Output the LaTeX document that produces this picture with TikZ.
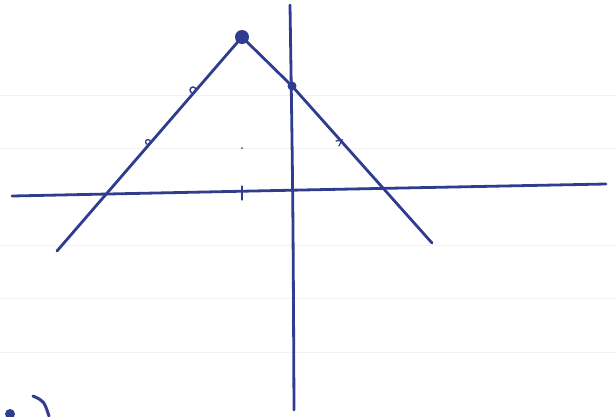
\documentclass[tikz,border=0pt]{standalone}
\usepackage{tikz}
\definecolor{ink}{HTML}{2F3C8F}
\definecolor{paper}{HTML}{F1F2F4}

\begin{document}
\begin{tikzpicture}[
  x=1pt, y=-1pt,
  pen/.style={draw=ink, line width=2.8pt, line cap=round},
  thin pen/.style={draw=ink, line width=1.3pt, line cap=round},
  grid line/.style={draw=paper, line width=0.8pt},
  blot/.style={circle, fill=ink, inner sep=0pt}
]
\useasboundingbox (0,0) rectangle (616,416);
% faint paper rules
\foreach \y in {95,148,245,298,352} \draw[grid line] (0,\y) -- (616,\y);
% axes
\coordinate (xl) at (12,196);
\coordinate (xr) at (606,184);
\coordinate (yt) at (290,5);
\coordinate (yb) at (294,410);
\draw[pen] (xl) .. controls (300,190) .. (xr);
\draw[pen] (yt) .. controls (293,200) .. (yb);
% the two branches
\node[blot, minimum size=14pt] (apex) at (242,37) {};
\node[blot, minimum size=9pt] (yint) at (292,86) {};
\coordinate (lend) at (57,251);
\coordinate (rend) at (432,243);
\draw[pen] (lend) -- (apex.center);
\draw[pen] (apex.center) -- (yint.center) -- (rend);
% marks on the branches
\node[circle, draw=ink, line width=1.4pt, minimum size=6pt, inner sep=0pt] (ma) at (193,90) {};
\node[circle, draw=ink, line width=1.3pt, minimum size=5pt, inner sep=0pt] (mb) at (148,142) {};
\coordinate (mc) at (336,141);
\draw[thin pen] (mc) -- ++(6,-1) -- ++(-3,6);
% ticks
\coordinate (tk) at (242,193);
\draw[thin pen] (tk) ++(0,-7) -- ++(0,14);
\node[blot, minimum size=2pt] (dot) at (242,148) {};
% corner label fragment
\coordinate (pa) at (33,396);
\coordinate (pb) at (49,416);
\draw[pen, line width=3pt] (pa) .. controls (44,401) .. (pb);
\node[blot, minimum size=10pt] (pdot) at (10,414) {};
\end{tikzpicture}
\end{document}
